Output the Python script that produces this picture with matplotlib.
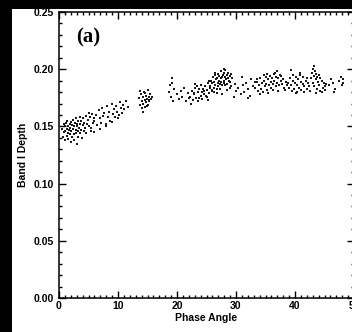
import numpy as np
import matplotlib
matplotlib.use('Agg')
import matplotlib.pyplot as plt
from matplotlib.patches import Rectangle
from matplotlib.ticker import MultipleLocator, FormatStrFormatter

phase1 = [0.5, 0.7, 0.8, 0.9, 1.0, 1.0, 1.1, 1.2, 1.3, 1.3,
          1.4, 1.5, 1.5, 1.6, 1.7, 1.8, 1.8, 1.9, 2.0, 2.0,
          2.1, 2.2, 2.2, 2.3, 2.4, 2.5, 2.5, 2.6, 2.7, 2.8,
          2.8, 2.9, 3.0, 3.0, 3.1, 3.2, 3.3, 3.3, 3.4, 3.5,
          3.6, 3.6, 3.7, 3.8, 3.9, 4.0, 4.1, 4.2, 4.3, 4.4,
          4.5, 4.6, 4.7, 4.9, 5.0, 5.2, 5.4, 5.6, 5.8, 6.0]
depth1 = [0.148, 0.141, 0.152, 0.145, 0.138, 0.150, 0.146, 0.153, 0.142, 0.148,
          0.155, 0.144, 0.150, 0.139, 0.147, 0.152, 0.143, 0.149, 0.136, 0.154,
          0.146, 0.151, 0.141, 0.148, 0.156, 0.143, 0.150, 0.138, 0.153, 0.147,
          0.157, 0.144, 0.150, 0.135, 0.152, 0.146, 0.155, 0.141, 0.149, 0.158,
          0.144, 0.152, 0.147, 0.155, 0.140, 0.151, 0.157, 0.146, 0.153, 0.149,
          0.159, 0.144, 0.152, 0.156, 0.150, 0.158, 0.146, 0.161, 0.153, 0.157]

phase2 = [5.1, 5.5, 5.9, 6.2, 6.4, 6.7, 6.9, 7.1, 7.3, 7.5,
          7.7, 7.9, 8.1, 8.3, 8.5, 8.7, 8.9, 9.1, 9.3, 9.5,
          9.7, 9.9, 10.1, 10.3, 10.5, 10.7, 10.9, 11.1, 11.4, 11.7,
          6.0, 7.0, 8.0, 9.0, 10.0]
depth2 = [0.162, 0.149, 0.155, 0.160, 0.151, 0.164, 0.157, 0.153, 0.166, 0.159,
          0.162, 0.150, 0.168, 0.158, 0.163, 0.155, 0.170, 0.161, 0.165, 0.158,
          0.168, 0.163, 0.160, 0.171, 0.166, 0.162, 0.169, 0.165, 0.172, 0.167,
          0.145, 0.148, 0.152, 0.154, 0.157]

phase3 = [13.5, 13.7, 13.9, 14.0, 14.1, 14.2, 14.3, 14.4, 14.5, 14.6,
          14.7, 14.8, 14.9, 15.0, 15.1, 15.2, 15.3, 15.4, 15.6, 15.8,
          14.3, 14.6, 14.9, 15.2, 13.8]
depth3 = [0.175, 0.169, 0.178, 0.172, 0.166, 0.176, 0.170, 0.180, 0.173, 0.167,
          0.177, 0.171, 0.174, 0.182, 0.169, 0.176, 0.172, 0.178, 0.174, 0.176,
          0.163, 0.179, 0.168, 0.173, 0.181]

phase4 = [18.6, 18.8, 19.0, 19.1, 19.3, 19.5, 20.0, 20.3, 20.6, 20.9,
          21.2, 21.5, 21.8, 22.0, 19.2]
depth4 = [0.180, 0.186, 0.176, 0.192, 0.172, 0.183, 0.178, 0.174, 0.181, 0.176,
          0.184, 0.172, 0.179, 0.175, 0.188]

phase5 = [22.2, 22.5, 22.7, 22.9, 23.1, 23.3, 23.5, 23.6, 23.8, 24.0,
          24.1, 24.3, 24.5, 24.6, 24.8, 25.0, 25.1, 25.3, 25.5, 25.6,
          22.4, 23.0, 23.7, 24.4, 25.2, 22.8, 23.4, 24.2, 24.9, 25.4]
depth5 = [0.176, 0.181, 0.173, 0.178, 0.184, 0.175, 0.180, 0.172, 0.183, 0.177,
          0.186, 0.174, 0.181, 0.178, 0.185, 0.176, 0.182, 0.188, 0.179, 0.184,
          0.170, 0.187, 0.175, 0.183, 0.173, 0.179, 0.185, 0.180, 0.177, 0.190]

phase6 = [25.6, 25.8, 25.9, 26.0, 26.1, 26.2, 26.3, 26.4, 26.5, 26.6,
          26.7, 26.8, 26.9, 27.0, 27.0, 27.1, 27.2, 27.3, 27.4, 27.5,
          27.5, 27.6, 27.7, 27.8, 27.9, 28.0, 28.0, 28.1, 28.2, 28.3,
          28.4, 28.5, 28.6, 28.7, 28.8, 28.9, 29.0, 29.1, 29.2, 29.4,
          26.2, 26.8, 27.3, 27.9, 28.5, 29.0, 25.9, 26.5, 27.6, 28.2]
depth6 = [0.185, 0.190, 0.182, 0.188, 0.193, 0.184, 0.189, 0.195, 0.186, 0.191,
          0.183, 0.192, 0.188, 0.196, 0.185, 0.190, 0.194, 0.187, 0.192, 0.198,
          0.189, 0.193, 0.186, 0.195, 0.190, 0.197, 0.188, 0.193, 0.199, 0.191,
          0.195, 0.187, 0.192, 0.197, 0.190, 0.194, 0.189, 0.196, 0.185, 0.192,
          0.180, 0.179, 0.183, 0.200, 0.182, 0.184, 0.181, 0.197, 0.178, 0.186]

phase7 = [29.6, 30.0, 30.4, 30.8, 31.2, 31.4, 31.7, 32.0, 32.3, 32.6,
          32.9, 33.2, 31.0, 32.1, 29.9]
depth7 = [0.176, 0.181, 0.184, 0.178, 0.186, 0.180, 0.188, 0.183, 0.177, 0.191,
          0.185, 0.189, 0.193, 0.175, 0.187]

phase8 = [33.3, 33.5, 33.7, 33.9, 34.0, 34.2, 34.4, 34.5, 34.7, 34.9,
          35.0, 35.1, 35.3, 35.4, 35.6, 35.7, 35.9, 36.0, 36.1, 36.3,
          36.4, 36.5, 36.7, 36.8, 36.9, 37.0, 37.2, 37.3, 37.5, 37.6,
          37.8, 38.0, 38.2, 38.4, 38.6, 34.1, 34.8, 35.5, 36.2, 36.6,
          37.1, 37.7, 33.6, 35.2, 38.3]
depth8 = [0.184, 0.189, 0.181, 0.186, 0.192, 0.183, 0.188, 0.180, 0.190, 0.185,
          0.193, 0.187, 0.182, 0.191, 0.186, 0.194, 0.189, 0.184, 0.192, 0.187,
          0.196, 0.190, 0.185, 0.193, 0.198, 0.188, 0.192, 0.186, 0.195, 0.190,
          0.187, 0.191, 0.184, 0.189, 0.186, 0.178, 0.195, 0.179, 0.182, 0.197,
          0.181, 0.194, 0.191, 0.196, 0.182]

phase9 = [38.8, 39.0, 39.2, 39.3, 39.5, 39.6, 39.7, 39.9, 40.0, 40.1,
          40.3, 40.4, 40.5, 40.7, 40.8, 41.0, 41.1, 41.3, 41.4, 41.6,
          41.8, 42.0, 42.2, 42.4, 42.6, 39.4, 40.2, 40.9, 41.5, 42.1]
depth9 = [0.188, 0.184, 0.192, 0.186, 0.181, 0.190, 0.195, 0.183, 0.188, 0.193,
          0.180, 0.186, 0.191, 0.184, 0.197, 0.189, 0.182, 0.187, 0.193, 0.185,
          0.190, 0.183, 0.188, 0.185, 0.181, 0.199, 0.179, 0.195, 0.180, 0.192]

phase10 = [42.7, 42.9, 43.0, 43.1, 43.2, 43.3, 43.4, 43.5, 43.6, 43.7,
           43.8, 43.9, 44.0, 44.1, 44.3, 44.5, 44.7, 44.9, 45.1, 45.3,
           43.2, 43.6, 44.2, 44.6, 45.0]
depth10 = [0.192, 0.197, 0.188, 0.200, 0.194, 0.185, 0.198, 0.191, 0.196, 0.183,
           0.193, 0.189, 0.186, 0.195, 0.181, 0.190, 0.184, 0.188, 0.182, 0.187,
           0.203, 0.179, 0.192, 0.180, 0.185]

phase11 = [45.8, 46.1, 46.4, 46.8, 47.5, 47.8, 47.9, 48.1, 48.2, 46.6]
depth11 = [0.186, 0.191, 0.188, 0.183, 0.190, 0.193, 0.186, 0.191, 0.188, 0.180]

phase = np.concatenate([phase1, phase2, phase3, phase4, phase5, phase6,
                        phase7, phase8, phase9, phase10, phase11])
depth = np.concatenate([depth1, depth2, depth3, depth4, depth5, depth6,
                        depth7, depth8, depth9, depth10, depth11])

W, H = 352, 332
fig = plt.figure(figsize=(W / 100, H / 100), dpi=100, facecolor='black')
# white page area of the scanned figure, kept behind the axes
fig.patches.append(Rectangle((12 / W, 0), 1, 1 - 9 / H, transform=fig.transFigure,
                             facecolor='white', edgecolor='none', zorder=-10))

ax = fig.add_axes([59 / W, 34 / H, 295 / W, 286 / H])
ax.set_zorder(5)
ax.set_facecolor('white')

ax.scatter(phase, depth, s=2.2, marker='s', color='#1a1a1a', linewidths=0)

ax.set_xlim(0, 50)
ax.set_ylim(0, 0.25)
ax.xaxis.set_major_locator(MultipleLocator(10))
ax.xaxis.set_minor_locator(MultipleLocator(1))
ax.yaxis.set_major_locator(MultipleLocator(0.05))
ax.yaxis.set_minor_locator(MultipleLocator(0.01))
ax.yaxis.set_major_formatter(FormatStrFormatter('%.2f'))

ax.tick_params(which='both', direction='in', top=True, right=True, width=1, color='black')
ax.tick_params(which='major', length=5)
ax.tick_params(which='minor', length=2.5)
ax.tick_params(axis='x', pad=2.5)
ax.tick_params(axis='y', pad=4)
for lbl in ax.get_xticklabels() + ax.get_yticklabels():
    lbl.set_fontfamily('Liberation Sans')
    lbl.set_fontweight('bold')
    lbl.set_fontsize(7.5)
for sp in ax.spines.values():
    sp.set_linewidth(1.1)

ax.set_xlabel('Phase Angle', family='Liberation Sans', fontweight='bold', fontsize=7.5, labelpad=1)
ax.set_ylabel('Band I Depth', family='Liberation Sans', fontweight='bold', fontsize=7.5, labelpad=4)

ax.text(0.058, 0.91, '(a)', transform=ax.transAxes, family='Liberation Serif',
        fontweight='bold', fontsize=15, ha='left', va='center')

fig.savefig('out.png', dpi=100, facecolor=fig.get_facecolor())
